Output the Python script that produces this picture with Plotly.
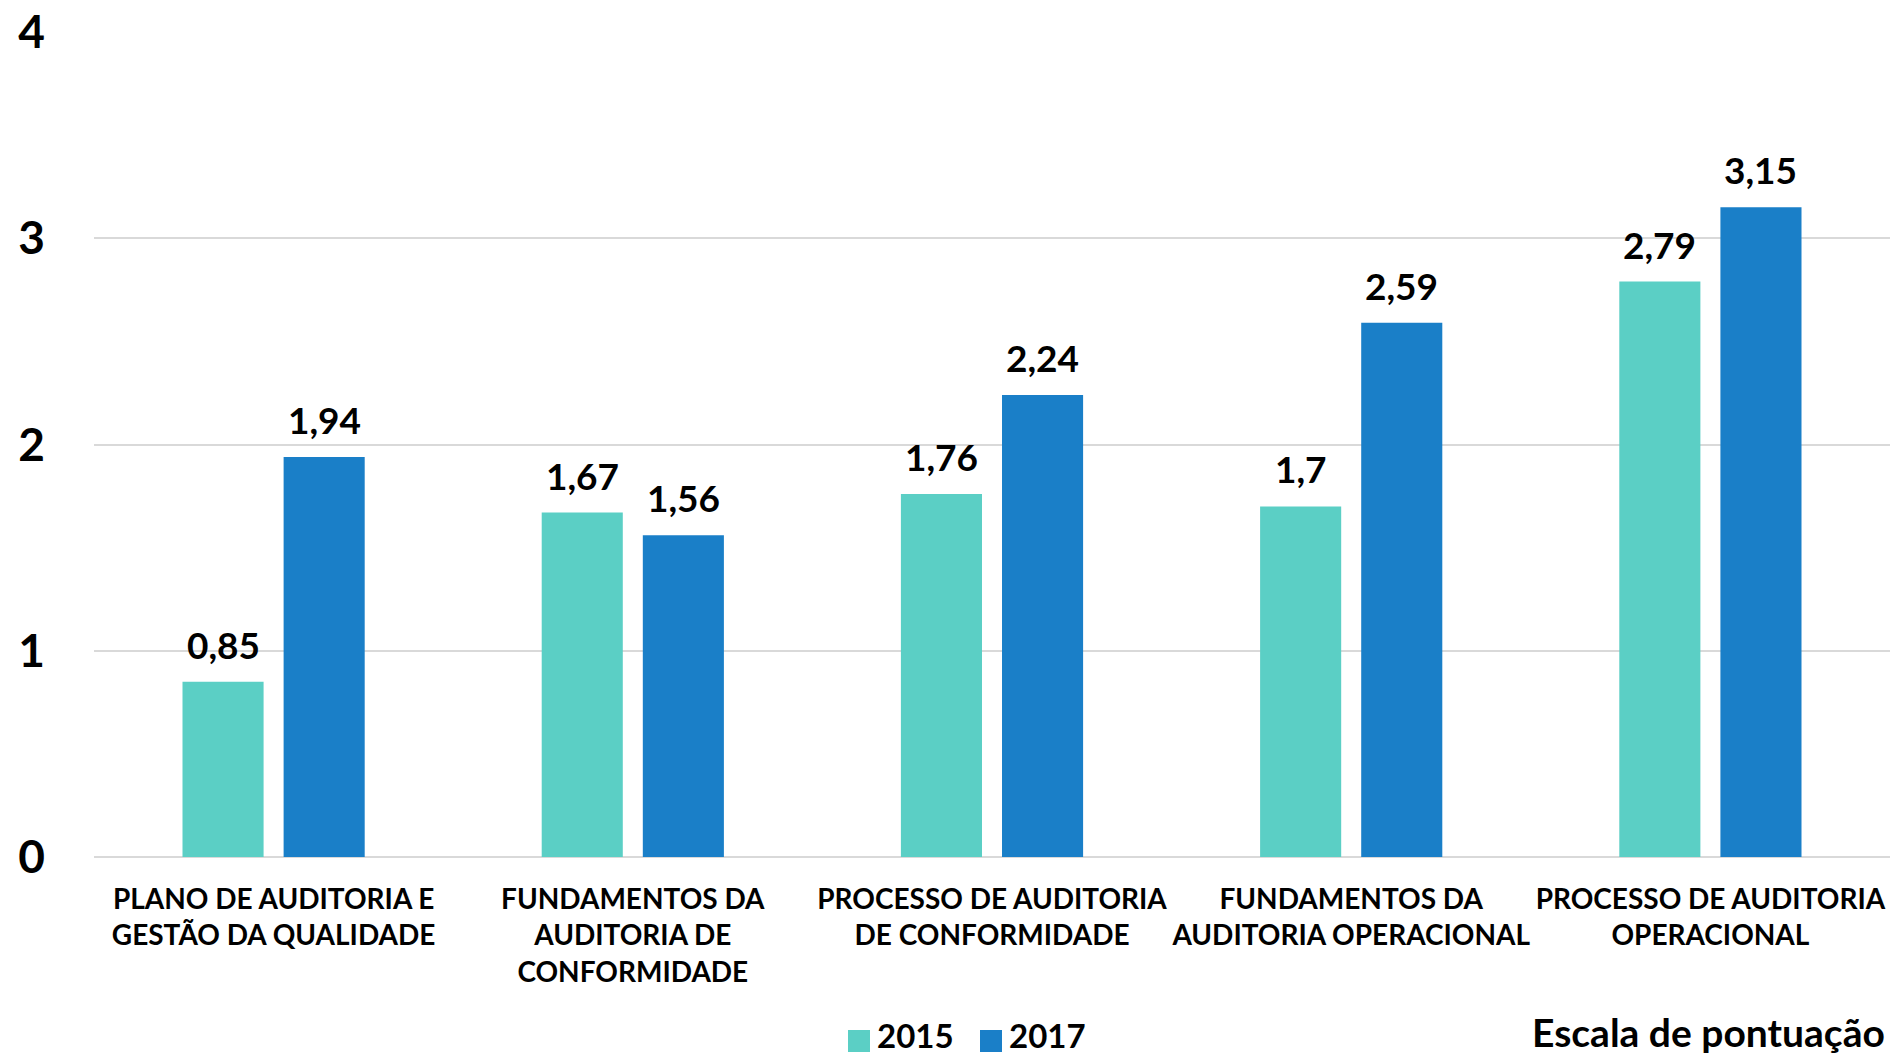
import plotly.graph_objects as go

categories = [
    "PLANO DE AUDITORIA E<br>GESTÃO DA QUALIDADE",
    "FUNDAMENTOS DA<br>AUDITORIA DE<br>CONFORMIDADE",
    "PROCESSO DE AUDITORIA<br>DE CONFORMIDADE",
    "FUNDAMENTOS DA<br>AUDITORIA OPERACIONAL",
    "PROCESSO DE AUDITORIA<br>OPERACIONAL",
]
series_names = ["2015", "2017"]
values_2015 = [0.85, 1.67, 1.76, 1.70, 2.79]
values_2017 = [1.94, 1.56, 2.24, 2.59, 3.15]
y_ticks = [0, 1, 2, 3, 4]

COLORS = ["#5BCFC5", "#1A7FC8"]
FONT = "Lato"

W, H = 1890, 1057
M_L, M_R, M_T, M_B = 94, 0, 32, 200
PLOT_W = W - M_L - M_R
PLOT_H = H - M_T - M_B
BARGAP, GROUPGAP = 0.437, 0.198


def fmt(v):
    # decimal comma, trailing zeros dropped
    s = ("%.2f" % v).rstrip("0").rstrip(".")
    return s.replace(".", ",")


def px_x(px):
    return (px - M_L) / PLOT_W


def px_y(py):
    return (H - M_B - py) / PLOT_H


fig = go.Figure()
all_values = [values_2015, values_2017]
for name, vals, color in zip(series_names, all_values, COLORS):
    fig.add_trace(go.Bar(
        name=name,
        x=categories,
        y=vals,
        marker=dict(color=color, line=dict(width=0)),
        showlegend=False,
    ))

# value labels above each bar
cat_w = PLOT_W / len(categories)
slot = cat_w * (1 - BARGAP) / len(series_names)
for si, vals in enumerate(all_values):
    offset = (si - (len(series_names) - 1) / 2) * slot
    for cat, v in zip(categories, vals):
        fig.add_annotation(
            x=cat, y=v, xshift=offset, yshift=13,
            text="<b>%s</b>" % fmt(v), showarrow=False,
            xanchor="center", yanchor="bottom",
            font=dict(family=FONT, size=37, color="#000000"),
        )

# legend drawn as swatches + labels below the axis
legend_items = [(848, 878), (980, 1010)]
for (sx, tx), name, color in zip(legend_items, series_names, COLORS):
    fig.add_shape(
        type="rect", xref="paper", yref="paper",
        x0=px_x(sx), x1=px_x(sx + 22), y0=px_y(1052), y1=px_y(1030),
        fillcolor=color, line=dict(width=0),
    )
    fig.add_annotation(
        text="<b>%s</b>" % name, xref="paper", yref="paper",
        x=px_x(tx - 2), y=px_y(1035), xanchor="left", yanchor="middle",
        showarrow=False, borderpad=0,
        font=dict(family=FONT, size=33, color="#000000"),
    )

fig.add_annotation(
    text="<b>Escala de pontuação</b>",
    xref="paper", yref="paper", x=px_x(1886), y=px_y(1032),
    xanchor="right", yanchor="middle", showarrow=False, borderpad=0,
    font=dict(family=FONT, size=39, color="#000000"),
)

fig.update_layout(
    width=W, height=H,
    margin=dict(l=M_L, r=M_R, t=M_T, b=M_B, autoexpand=False),
    paper_bgcolor="white", plot_bgcolor="white",
    barmode="group", bargap=BARGAP, bargroupgap=GROUPGAP,
    font=dict(family=FONT, color="#000000"),
    showlegend=False,
)
fig.update_xaxes(
    showgrid=False, showline=False, ticks="", automargin=False,
    tickfont=dict(family=FONT, size=28, color="#000000", weight="bold"),
    ticklabelstandoff=23,
)
fig.update_yaxes(
    range=[0, 4], tickvals=y_ticks, ticktext=[str(t) for t in y_ticks],
    showgrid=True, gridcolor="#D9D9D9", gridwidth=2,
    zeroline=True, zerolinecolor="#D9D9D9", zerolinewidth=2,
    showline=False, ticks="", automargin=False,
    tickfont=dict(family=FONT, size=46, color="#000000", weight="bold"),
    ticklabelstandoff=48,
)

fig.write_html("out.html")
